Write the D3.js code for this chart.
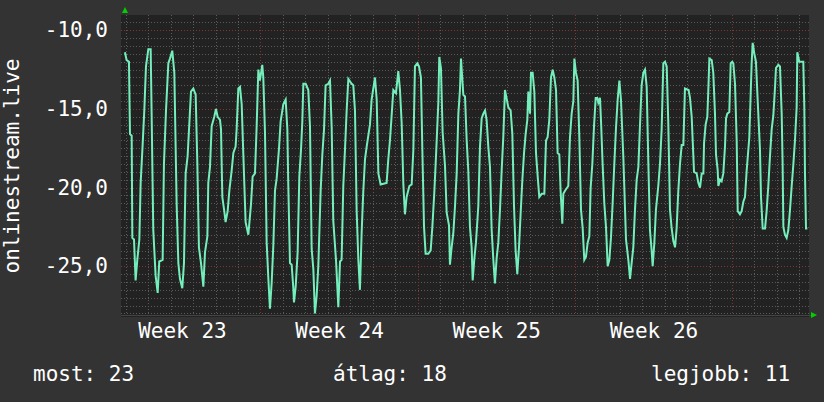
<!DOCTYPE html>
<html>
<head>
<meta charset="utf-8">
<script src="https://cdn.jsdelivr.net/npm/d3@7"></script>
<style>
  html, body { margin: 0; padding: 0; background: #333333; }
  svg { display: block; }
  text { font-family: "DejaVu Sans Mono", monospace; fill: #ffffff; }
</style>
</head>
<body>
<svg id="chart" width="824" height="402"></svg>
<script>
// ---- data (hours since Monday 00:00 of week 23, value) ----
const hours = [
  23.1,24.9,27.4,28.5,30.3,31.0,32.8,34.5,36.3,38.5,39.9,42.0,43.8,45.6,48.1,50.6,51.6,53.4,55.9,58.1,59.8,
  63.4,64.8,67.0,69.5,71.2,73.7,75.9,78.4,80.2,81.9,84.4,86.2,88.0,90.1,91.6,93.7,96.2,98.7,100.5,102.2,104.4,
  106.9,108.7,111.2,112.2,114.0,115.8,118.6,120.4,122.2,124.7,125.8,127.2,129.3,130.7,132.9,134.7,137.2,139.0,
  141.4,142.5,144.3,146.1,147.9,149.6,152.1,155.0,157.8,159.6,162.1,163.9,165.7,167.4,169.9,171.0,172.8,174.6,
  176.4,178.1,179.9,181.7,183.5,185.3,187.8,189.5,192.4,194.9,196.7,197.7,199.5,201.3,203.1,203.8,205.6,207.7,
  209.5,211.3,212.7,213.8,216.3,219.1,220.9,222.7,224.5,226.2,228.0,229.8,232.3,234.1,235.9,237.6,240.5,242.3,
  244.1,245.8,248.7,251.2,253.0,254.7,256.5,258.3,260.1,261.9,265.4,267.2,269.0,270.8,272.6,274.3,276.1,277.9,
  279.7,281.5,285.0,286.8,290.4,292.2,294.0,296.4,302.8,304.6,306.4,310.0,312.8,315.3,317.1,318.9,320.7,322.4,
  324.2,327.1,329.6,331.4,333.1,335.6,337.4,339.5,341.0,342.8,344.5,347.4,349.9,351.7,353.8,355.6,358.1,359.1,
  360.9,362.7,365.2,367.0,369.5,370.5,372.3,374.1,375.9,377.7,379.5,381.2,382.3,384.8,386.6,388.4,390.1,391.9,
  393.7,394.8,396.6,398.3,400.8,402.6,404.4,406.2,408.0,409.7,411.5,413.3,415.1,416.9,418.6,420.4,422.2,424.0,
  425.8,427.6,429.3,432.9,435.4,437.2,439.0,440.7,442.5,444.3,446.1,447.9,449.7,451.4,453.2,454.3,456.1,457.1,
  458.9,460.7,462.5,464.3,466.0,468.5,471.4,473.2,474.9,476.7,478.5,480.3,482.1,483.9,485.6,487.4,488.8,490.6,
  491.7,493.5,497.0,498.8,500.6,502.4,503.5,505.2,507.0,508.8,510.6,512.4,514.1,515.9,517.7,519.5,520.9,522.7,
  524.5,526.3,528.0,529.1,530.9,532.0,533.7,535.5,537.3,539.1,540.9,542.6,544.4,546.2,548.0,549.8,551.6,553.3,
  555.8,558.7,561.2,563.0,564.7,566.5,568.3,570.1,571.9,573.6,575.4,577.2,579.0,580.8,582.6,584.3,586.1,587.2,
  589.0,590.7,593.2,595.0,596.8,598.6,600.4,602.2,603.9,605.7,607.5,609.3,611.1,612.8,614.6,616.4,618.2,620.0,
  621.7,625.6,627.1,628.9,631.4,634.2,636.0,637.8,639.6,641.4,642.1,643.8,645.6,646.7,647.8,650.3,652.0,653.8,
  654.9,656.7,657.4,659.2,660.9,662.7,664.5,665.6,667.0,669.1,670.6,672.3,673.4,675.2,677.0,678.1,680.5,682.3,
  684.1,685.9,687.7,690.5,693.0,694.1,695.9,697.6,699.4,701.9,703.0,704.8,707.3,709.0,710.8,712.6,714.4,716.2,
  718.0,719.0,721.5,723.3,725.1,726.1,726.9,728.6,730.4,732.2,734.0,735.8,737.6,739.3,741.1,741.8,743.9,748.2,
  749.3,750.0,751.1,752.5
];
const values = [
  -11.4,-11.9,-12.0,-16.6,-16.7,-23.2,-23.3,-25.9,-24.6,-23.3,-19.7,-17.3,-15.1,-12.3,-11.2,-11.2,-15.2,-22.7,-25.6,-26.7,-24.7,
  -24.6,-18.5,-15.1,-12.1,-11.8,-11.3,-12.7,-21.1,-24.8,-25.8,-26.4,-24.8,-19.1,-18.0,-16.3,-13.9,-13.7,-14.1,-18.5,-23.8,-24.8,
  -26.3,-24.1,-23.1,-19.7,-18.7,-16.1,-15.5,-15.0,-15.5,-15.7,-16.3,-20.6,-21.5,-22.2,-21.5,-20.2,-18.9,-17.8,
  -17.4,-16.3,-13.7,-13.6,-14.7,-17.8,-22.2,-23.0,-21.1,-19.3,-19.1,-16.1,-12.5,-13.2,-12.2,-13.0,-16.5,-23.5,
  -25.8,-27.7,-26.1,-23.7,-20.2,-19.4,-17.5,-15.8,-14.7,-14.4,-16.3,-19.8,-24.8,-24.9,-26.4,-27.3,-26.3,-24.1,
  -19.3,-17.6,-15.8,-13.4,-13.4,-13.8,-16.1,-23.9,-25.2,-28.0,-26.9,-25.0,-20.2,-17.9,-16.3,-13.5,-13.4,-13.2,
  -16.2,-22.1,-24.6,-27.6,-24.7,-24.6,-19.9,-17.6,-15.1,-13.1,-13.4,-13.5,-15.1,-21.5,-24.6,-26.5,-22.9,-20.2,
  -18.2,-17.4,-16.0,-14.4,-13.0,-14.4,-19.1,-19.8,-19.7,-18.2,-17.0,-13.8,-14.0,-12.6,-13.8,-15.9,-19.8,-21.7,
  -20.6,-19.9,-19.8,-17.6,-12.3,-12.1,-12.3,-13.0,-17.6,-22.5,-24.2,-24.2,-24.0,-22.5,-20.3,-18.0,-14.6,-11.7,
  -12.4,-16.5,-18.6,-21.6,-22.4,-24.9,-23.8,-22.9,-21.2,-19.1,-15.3,-13.8,-11.8,-14.1,-14.2,-17.0,-18.9,-22.5,
  -23.8,-25.9,-24.5,-23.5,-21.2,-17.4,-15.6,-15.3,-15.1,-15.7,-17.4,-18.7,-22.7,-24.6,-26.1,-24.5,-23.5,-21.4,
  -18.9,-16.7,-13.8,-14.9,-15.1,-16.6,-21.2,-24.0,-25.5,-23.8,-21.6,-19.5,-17.8,-16.6,-15.7,-13.9,-15.3,-12.7,
  -12.7,-13.9,-17.8,-19.3,-20.6,-20.4,-20.4,-17.0,-16.8,-15.7,-13.0,-12.5,-13.0,-13.8,-17.8,-17.9,-20.2,-22.3,
  -20.4,-20.2,-19.9,-16.8,-15.3,-14.5,-11.8,-12.7,-13.2,-16.8,-21.4,-22.6,-24.6,-24.4,-23.5,-23.1,-20.0,-18.5,
  -16.1,-14.3,-14.3,-14.6,-14.3,-15.8,-18.5,-21.0,-22.5,-25.0,-24.6,-23.2,-21.0,-18.5,-16.2,-14.4,-13.2,-14.4,
  -18.0,-23.3,-24.6,-25.8,-24.8,-23.8,-21.4,-19.5,-18.7,-16.1,-13.5,-12.7,-12.5,-13.6,-18.5,-22.7,-24.0,-25.0,
  -23.5,-21.4,-19.9,-18.5,-16.3,-12.1,-12.0,-12.3,-15.9,-21.4,-22.6,-23.4,-23.8,-22.6,-20.2,-18.5,-17.3,-17.3,
  -13.7,-13.8,-14.3,-15.5,-19.0,-19.1,-19.7,-20.0,-19.1,-19.1,-17.2,-16.0,-15.5,-13.8,-11.8,-11.9,-12.7,-15.3,
  -17.9,-18.9,-19.9,-19.5,-19.6,-19.1,-17.4,-15.6,-15.3,-15.2,-12.1,-12.0,-12.1,-13.4,-17.0,-21.5,-21.7,-21.5,
  -20.9,-20.6,-18.9,-16.8,-12.1,-10.8,-11.5,-12.0,-14.4,-17.6,-20.6,-22.6,-22.6,-21.5,-19.9,-18.0,-16.3,-15.4,
  -13.6,-12.4,-12.2,-12.3,-15.3,-18.5,-22.5,-23.0,-23.2,-22.7,-21.4,-19.9,-18.5,-17.0,-14.9,-11.4,-12.0,-12.0,
  -14.9,-19.1,-22.6,-22.6
];
const yTicks = [-25, -20, -15, -10];
const weekMid = [84, 252, 420, 588];
const weekLabels = ["Week 23", "Week 24", "Week 25", "Week 26"];
const yTitle = "onlinestream.live";
const legendLabels = ["most: 23", "átlag: 18", "legjobb: 11"];

// ---- layout ----
const svg = d3.select("#chart");
const L = 124, R = 809, T = 15, B = 315;
const x = d3.scaleLinear().domain([22.1, 754.3]).range([L, R]);
const y = d3.scaleLinear().domain([-28.1, -9.03]).range([B, T]);

svg.append("rect").attr("x", 0).attr("y", 0).attr("width", 824).attr("height", 402).attr("fill", "#333333");
svg.append("rect").attr("x", 121).attr("y", T).attr("width", R - 121).attr("height", B - T + 2).attr("fill", "#222222");

// horizontal grid
const hMinor = d3.range(-28, -9.2, 0.5);
svg.append("g").selectAll("line").data(hMinor).join("line")
  .attr("x1", 121).attr("x2", R)
  .attr("y1", d => Math.round(y(d)) + 0.5).attr("y2", d => Math.round(y(d)) + 0.5)
  .attr("stroke", d => (d % 5 === 0) ? "#803434" : "#5a5a5a")
  .attr("stroke-width", 1)
  .attr("stroke-dasharray", "1,2");

// vertical grid
const dayLines = d3.range(24, 754, 24);
svg.append("g").selectAll("line").data(dayLines).join("line")
  .attr("y1", T).attr("y2", B + 3)
  .attr("x1", d => Math.round(x(d)) + 0.5).attr("x2", d => Math.round(x(d)) + 0.5)
  .attr("stroke", d => (d % 168 === 0) ? "#803434" : "#5a5a5a")
  .attr("stroke-width", 1)
  .attr("stroke-dasharray", "1,2");

// axis line
svg.append("line").attr("x1", 121).attr("x2", R + 2).attr("y1", B + 0.5).attr("y2", B + 0.5)
  .attr("stroke", "#444444").attr("stroke-width", 1);

// series line
const pts = hours.map((h, i) => [h, values[i]]);
const line = d3.line().x(d => x(d[0])).y(d => y(d[1])).curve(d3.curveLinear);
svg.append("path").datum(pts)
  .attr("d", line)
  .attr("fill", "none")
  .attr("stroke", "#74eebb")
  .attr("stroke-width", 2)
  .attr("stroke-linejoin", "miter");

// y axis labels
const loc = d3.formatLocale({decimal: ",", thousands: ".", grouping: [3], currency: ["", ""], minus: "-"});
const fmt = loc.format(".1f");
const yAxis = d3.axisLeft(y).tickValues(yTicks).tickFormat(fmt).tickSize(0).tickPadding(16);
const gy = svg.append("g").attr("transform", `translate(${L},0)`).call(yAxis);
gy.select(".domain").remove();
gy.selectAll("text").attr("font-size", 21).attr("fill", "#ffffff")
  .attr("font-family", "DejaVu Sans Mono");

// x axis labels
const xAxis = d3.axisBottom(x).tickValues(weekMid).tickFormat((d, i) => weekLabels[i]).tickSize(0).tickPadding(8);
const gx = svg.append("g").attr("transform", `translate(0,${B})`).call(xAxis);
gx.select(".domain").remove();
gx.selectAll("text").attr("font-size", 21).attr("fill", "#ffffff")
  .attr("font-family", "DejaVu Sans Mono");

// y title
svg.append("text")
  .attr("transform", `translate(19,166) rotate(-90)`)
  .attr("text-anchor", "middle")
  .attr("font-size", 21)
  .text(yTitle);

// arrows
svg.append("path").attr("d", d3.line()([[122, 13], [128, 13], [125, 7]])).attr("fill", "#00d000");
svg.append("path").attr("d", d3.line()([[811, 312], [811, 318], [817, 315]])).attr("fill", "#00d000");

// legend
const legX = [33, 333, 651];
svg.append("g").selectAll("text").data(legendLabels).join("text")
  .attr("x", (d, i) => legX[i]).attr("y", 381)
  .attr("font-size", 21)
  .text(d => d);
</script>
</body>
</html>
